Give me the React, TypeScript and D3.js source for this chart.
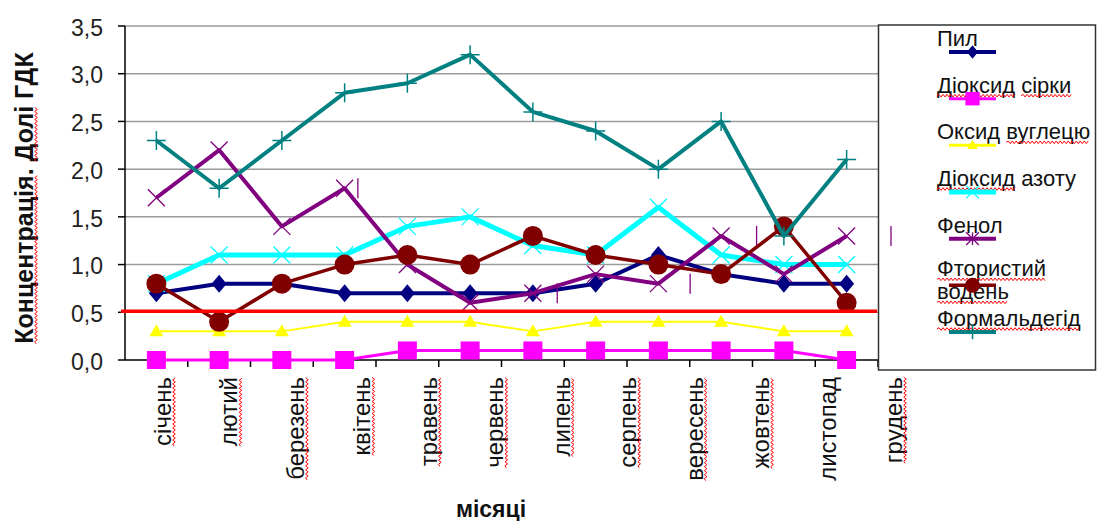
import React, { useEffect, useRef } from "react";
import * as d3 from "d3";

// Monthly concentrations, in fractions of the maximum permissible concentration (ГДК)
const months = [
  "січень", "лютий", "березень", "квітень", "травень", "червень",
  "липень", "серпень", "вересень", "жовтень", "листопад", "грудень",
];
const dust = [0.7, 0.8, 0.8, 0.7, 0.7, 0.7, 0.7, 0.8, 1.1, 0.9, 0.8, 0.8];
const sulfurDioxide = [0, 0, 0, 0, 0.1, 0.1, 0.1, 0.1, 0.1, 0.1, 0.1, 0];
const carbonMonoxide = [0.3, 0.3, 0.3, 0.4, 0.4, 0.4, 0.3, 0.4, 0.4, 0.4, 0.3, 0.3];
const nitrogenDioxide = [0.8, 1.1, 1.1, 1.1, 1.4, 1.5, 1.2, 1.1, 1.6, 1.1, 1.0, 1.0];
const phenol = [1.7, 2.2, 1.4, 1.8, 1.0, 0.6, 0.7, 0.9, 0.8, 1.3, 0.9, 1.3];
const hydrogenFluoride = [0.8, 0.4, 0.8, 1.0, 1.1, 1.0, 1.3, 1.1, 1.0, 0.9, 1.4, 0.6];
const formaldehyde = [2.3, 1.8, 2.3, 2.8, 2.9, 3.2, 2.6, 2.4, 2.0, 2.5, 1.3, 2.1];

const yTicks = [0, 0.5, 1.0, 1.5, 2.0, 2.5, 3.0, 3.5];
const limitValue = 0.5;
// Phenol star markers whose vertical stroke is drawn shifted onto the label grid
const phenolShiftedStrokes = [3, 6, 8, 9, 11];

const yTitle = "Концентрація. Долі ГДК";
const xTitle = "місяці";

// Words carrying the spell-check wave underline
const yTitleWavy = ["Концентрація", "Долі"];
const monthWavy = months.filter((m) => m !== "листопад");

type MarkerKind = "diamond" | "square" | "triangle" | "cross" | "star" | "circle" | "plus";

interface Series {
  label: string[];
  wavy: string[];
  values: number[];
  color: string;
  width: number;
  marker: MarkerKind;
}

const series: Series[] = [
  { label: ["Пил"], wavy: [], values: dust, color: "#000080", width: 4, marker: "diamond" },
  { label: ["Діоксид сірки"], wavy: ["Діоксид", "сірки"], values: sulfurDioxide, color: "#FF00FF", width: 3, marker: "square" },
  { label: ["Оксид вуглецю"], wavy: ["вуглецю"], values: carbonMonoxide, color: "#FFFF00", width: 2, marker: "triangle" },
  { label: ["Діоксид азоту"], wavy: ["Діоксид"], values: nitrogenDioxide, color: "#00FFFF", width: 5, marker: "cross" },
  { label: ["Фенол"], wavy: [], values: phenol, color: "#800080", width: 4, marker: "star" },
  { label: ["Фтористий", "водень"], wavy: ["Фтористий", "водень"], values: hydrogenFluoride, color: "#800000", width: 3.5, marker: "circle" },
  { label: ["Формальдегід"], wavy: ["Формальдегід"], values: formaldehyde, color: "#008080", width: 4, marker: "plus" },
];

const W = 1097;
const H = 521;
const FONT = "'Liberation Sans', Arial, sans-serif";

type G = d3.Selection<SVGGElement, unknown, null, undefined>;

function wavyPath(x0: number, x1: number, y: number): string {
  let d = `M${x0},${y}`;
  let up = true;
  for (let x = x0 + 2; x <= x1; x += 2) {
    d += `L${x},${y + (up ? -1.3 : 1.3)}`;
    up = !up;
  }
  return d;
}

function underline(parent: G, text: SVGTextElement, words: string[], offset: number) {
  const content = text.textContent || "";
  const baseY = Number(text.getAttribute("y") || 0);
  words.forEach((w) => {
    const i = content.indexOf(w);
    if (i < 0) return;
    const x0 = text.getStartPositionOfChar(i).x;
    const x1 = text.getEndPositionOfChar(i + w.length - 1).x;
    parent
      .append("path")
      .attr("d", wavyPath(x0, x1, baseY + offset))
      .attr("fill", "none")
      .attr("stroke", "#FF0000")
      .attr("stroke-width", 1);
  });
}

function drawMarker(g: G, kind: MarkerKind, x: number, y: number, color: string, k: number) {
  switch (kind) {
    case "diamond":
      g.append("path")
        .attr("d", `M${x},${y - 9 * k}L${x + 7.5 * k},${y}L${x},${y + 9 * k}L${x - 7.5 * k},${y}Z`)
        .attr("fill", color);
      break;
    case "square":
      g.append("rect")
        .attr("x", x - 9.5 * k).attr("y", y - 9 * k)
        .attr("width", 19 * k).attr("height", 18 * k)
        .attr("fill", color);
      break;
    case "triangle":
      g.append("path")
        .attr("d", `M${x},${y - 7 * k}L${x + 7 * k},${y + 5 * k}L${x - 7 * k},${y + 5 * k}Z`)
        .attr("fill", color);
      break;
    case "cross":
    case "star": {
      const s = 8.5 * k;
      g.append("path")
        .attr("d", `M${x - s},${y - s}L${x + s},${y + s}M${x - s},${y + s}L${x + s},${y - s}`)
        .attr("stroke", color).attr("stroke-width", 1.3).attr("fill", "none");
      if (kind === "star" && k < 1) {
        g.append("path")
          .attr("d", `M${x},${y - s}L${x},${y + s}`)
          .attr("stroke", color).attr("stroke-width", 1.3);
      }
      break;
    }
    case "circle":
      g.append("circle").attr("cx", x).attr("cy", y).attr("r", 10 * k).attr("fill", color);
      break;
    case "plus": {
      const s = 9.5 * k;
      g.append("path")
        .attr("d", `M${x - s},${y}L${x + s},${y}M${x},${y - s}L${x},${y + s}`)
        .attr("stroke", color).attr("stroke-width", 1.5).attr("fill", "none");
      break;
    }
  }
}

export default function App() {
  const ref = useRef<SVGSVGElement | null>(null);

  useEffect(() => {
    const svg = d3.select(ref.current as SVGSVGElement);
    svg.selectAll("*").remove();
    const root = svg.append("g") as unknown as G;

    const plot = { left: 125, right: 878, top: 26, bottom: 360 };

    const x = d3.scaleBand<string>().domain(months).range([plot.left, plot.right]).padding(0);
    const cx = (m: string) => (x(m) as number) + x.bandwidth() / 2;
    const labelX = d3.scalePoint<string>().domain(months).range([163, 894]);
    const y = d3.scaleLinear().domain([0, 3.5]).range([plot.bottom, plot.top]);
    const fmt = (v: number) => d3.format(".1f")(v).replace(".", ",");

    root.append("rect").attr("width", W).attr("height", H).attr("fill", "#fff");

    // Horizontal gridlines
    root.append("g")
      .selectAll("line")
      .data(yTicks.filter((t) => t > 0))
      .join("line")
      .attr("x1", plot.left).attr("x2", plot.right)
      .attr("y1", (d) => y(d)).attr("y2", (d) => y(d))
      .attr("stroke", "#9a9a9a").attr("stroke-width", 1.5);

    // Y axis
    const yAxis = root.append("g");
    yAxis.append("line")
      .attr("x1", plot.left).attr("x2", plot.left)
      .attr("y1", y(3.5)).attr("y2", y(0))
      .attr("stroke", "#000").attr("stroke-width", 1.5);
    yAxis.selectAll("line.tick")
      .data(yTicks).join("line").attr("class", "tick")
      .attr("x1", plot.left - 7).attr("x2", plot.left)
      .attr("y1", (d) => y(d)).attr("y2", (d) => y(d))
      .attr("stroke", "#000").attr("stroke-width", 1.5);
    yAxis.selectAll("text")
      .data(yTicks).join("text")
      .attr("x", 103).attr("y", (d) => y(d) + 1.5)
      .attr("dy", "0.36em")
      .attr("text-anchor", "end")
      .attr("font-family", FONT).attr("font-size", 23).attr("fill", "#222")
      .text((d) => fmt(d));

    // X axis
    const xAxis = root.append("g");
    xAxis.append("line")
      .attr("x1", plot.left).attr("x2", plot.right)
      .attr("y1", plot.bottom).attr("y2", plot.bottom)
      .attr("stroke", "#000").attr("stroke-width", 1.5);
    xAxis.selectAll("line.tick")
      .data(months).join("line").attr("class", "tick")
      .attr("x1", (m) => (x(m) as number) + x.bandwidth())
      .attr("x2", (m) => (x(m) as number) + x.bandwidth())
      .attr("y1", plot.bottom).attr("y2", plot.bottom + 7)
      .attr("stroke", "#000").attr("stroke-width", 1.5);

    months.forEach((m) => {
      const g = root.append("g").attr("transform", `translate(${labelX(m)},377) rotate(-90)`) as unknown as G;
      const t = g.append("text")
        .attr("x", 0).attr("y", 8)
        .attr("text-anchor", "end")
        .attr("font-family", FONT).attr("font-size", 24).attr("fill", "#111")
        .text(m);
      if (monthWavy.includes(m)) underline(g, t.node() as SVGTextElement, [m], 3);
    });

    // Axis titles
    root.append("text")
      .attr("x", 491).attr("y", 517)
      .attr("text-anchor", "middle")
      .attr("font-family", FONT).attr("font-size", 23).attr("font-weight", "bold").attr("fill", "#111")
      .text(xTitle);

    const yt = root.append("g").attr("transform", "translate(33,198) rotate(-90)") as unknown as G;
    const ytText = yt.append("text")
      .attr("x", 0).attr("y", 0)
      .attr("text-anchor", "middle")
      .attr("font-family", FONT).attr("font-size", 25).attr("font-weight", "bold").attr("fill", "#111")
      .text(yTitle);
    underline(yt, ytText.node() as SVGTextElement, yTitleWavy, 3);

    // Series
    const line = d3.line<number>()
      .x((_, i) => cx(months[i]))
      .y((d) => y(d));

    series.forEach((s) => {
      const g = root.append("g") as unknown as G;
      g.append("path")
        .attr("d", line(s.values) as string)
        .attr("fill", "none")
        .attr("stroke", s.color)
        .attr("stroke-width", s.width)
        .attr("stroke-linejoin", "round");
      s.values.forEach((v, i) => drawMarker(g, s.marker, cx(months[i]), y(v), s.color, 1));
      if (s.marker === "star") {
        phenolShiftedStrokes.forEach((i) => {
          const px = (labelX(months[i]) as number) - 4.5;
          g.append("line")
            .attr("x1", px).attr("x2", px)
            .attr("y1", y(s.values[i]) - 10).attr("y2", y(s.values[i]) + 10)
            .attr("stroke", s.color).attr("stroke-width", 1.3);
        });
      }
    });

    // Limit line at 0.5 ГДК
    root.append("line")
      .attr("x1", 121).attr("x2", 877)
      .attr("y1", y(limitValue) - 1).attr("y2", y(limitValue) - 1)
      .attr("stroke", "#FF0000").attr("stroke-width", 3.5);

    // Legend
    const legend = root.append("g") as unknown as G;
    legend.append("rect")
      .attr("x", 878.5).attr("y", 25)
      .attr("width", 217).attr("height", 345)
      .attr("fill", "#fff").attr("stroke", "#333").attr("stroke-width", 1.5);

    const rowY = d3.scalePoint<string>()
      .domain(series.map((s) => s.label.join(" ")))
      .range([52, 332]);

    series.forEach((s) => {
      const ly = rowY(s.label.join(" ")) as number;
      const first = s.label.length > 1 ? ly - 9 : ly - 6;
      s.label.forEach((ln, j) => {
        const t = legend.append("text")
          .attr("x", 937).attr("y", first + j * 23)
          .attr("font-family", FONT).attr("font-size", 22).attr("fill", "#111")
          .text(ln);
        underline(legend, t.node() as SVGTextElement, s.wavy.filter((w) => ln.includes(w)), 3);
      });
      legend.append("line")
        .attr("x1", 949).attr("x2", 996)
        .attr("y1", ly).attr("y2", ly)
        .attr("stroke", s.color).attr("stroke-width", Math.max(s.width, 3));
      drawMarker(legend, s.marker, 972.5, ly, s.color, 0.75);
    });

    // Stray phenol stroke beside the legend
    legend.append("line")
      .attr("x1", 891).attr("x2", 891)
      .attr("y1", y(phenol[11]) - 10).attr("y2", y(phenol[11]) + 10)
      .attr("stroke", "#800080").attr("stroke-width", 1.3);
  }, []);

  return (
    <div style={{ position: "absolute", left: 0, top: 0 }}>
      <svg ref={ref} width={W} height={H} style={{ display: "block" }} />
    </div>
  );
}
